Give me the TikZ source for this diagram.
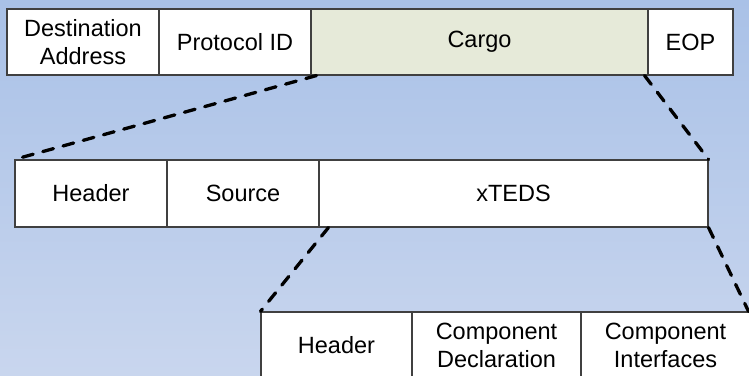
\documentclass[tikz,border=0pt]{standalone}
\usepackage{fontspec}
\setmainfont{Liberation Sans}
\definecolor{bgtop}{HTML}{A9C1E7}
\definecolor{bgbot}{HTML}{C9D6EE}
\definecolor{cargofill}{HTML}{E6EAD9}
\definecolor{edge}{HTML}{404040}
\tikzset{
  field/.style={draw=edge, line width=1.1pt, fill=white, inner sep=0pt,
    minimum height=#1, align=center, font=\fontsize{23.5}{28}\selectfont},
  field/.default=66pt,
  zoomline/.style={line width=3.3pt, dash pattern=on 11pt off 10pt, line cap=round, black}
}
\begin{document}
\begin{tikzpicture}[x=1pt,y=-1pt]
\useasboundingbox (0,0) rectangle (749,375);
\clip (0,0) rectangle (749,375);
\shade[top color=bgtop, bottom color=bgbot] (0,0) rectangle (749,375);
% top row
\node[field, minimum width=152pt] (dest) at (83,42) {Destination\\Address};
\node[field, minimum width=152pt] (proto) at (235,42) {Protocol ID};
\node[field, minimum width=337pt, fill=cargofill] (cargo) at (479.5,42) {Cargo};
\node[field, minimum width=85pt] (eop) at (690.5,42) {EOP};
% middle row
\node[field=67pt, minimum width=152pt] (hdr1) at (91,193.5) {Header};
\node[field=67pt, minimum width=152pt] (src) at (243,193.5) {Source};
\node[field=67pt, minimum width=389pt] (xteds) at (513.5,193.5) {xTEDS};
% bottom row
\node[field=67pt, minimum width=151pt] (hdr2) at (336.5,345.5) {Header};
\node[field=67pt, minimum width=169pt] (cdecl) at (496.5,345.5) {Component\\Declaration};
\node[field=67pt, minimum width=169pt] (cint) at (665.5,345.5) {Component\\Interfaces};
% zoom lines
\draw[zoomline] ([xshift=6pt]cargo.south west) -- (hdr1.north west);
\draw[zoomline] ([xshift=-4pt]cargo.south east) -- (xteds.north east);
\draw[zoomline] ([xshift=10pt]xteds.south west) -- (hdr2.north west);
\draw[zoomline] (xteds.south east) -- ([xshift=-2pt]cint.north east);
\end{tikzpicture}
\end{document}
